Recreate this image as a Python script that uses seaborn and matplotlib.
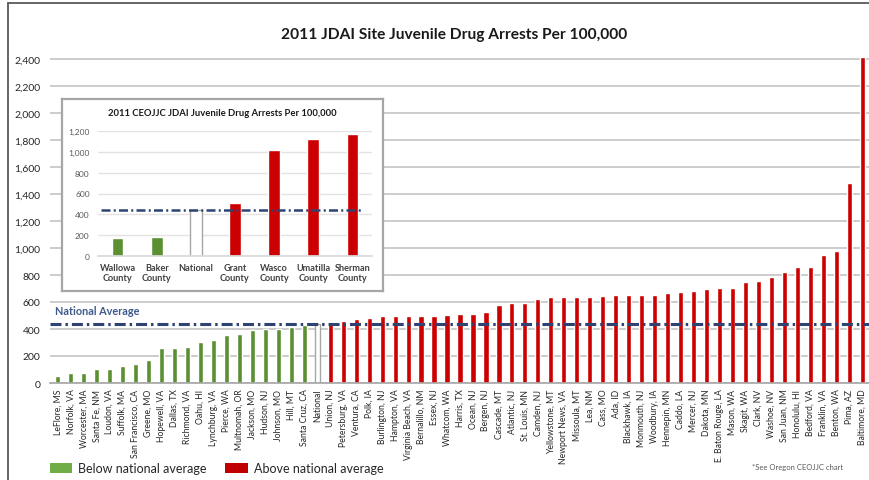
import pandas as pd
import matplotlib
matplotlib.use("Agg")
import matplotlib.pyplot as plt
from matplotlib.patches import Patch
from matplotlib.lines import Line2D
from matplotlib.ticker import FuncFormatter
import seaborn as sns

# JDAI sites below the national rate (juvenile drug arrests per 100,000)
below_sites = ["LeFlore, MS", "Norfolk, VA", "Worcester, MA", "Santa Fe, NM", "Loudon, VA",
               "Suffolk, MA", "San Francisco, CA", "Greene, MO", "Hopewell, VA", "Dallas, TX",
               "Richmond, VA", "Oahu, HI", "Lynchburg, VA", "Pierce, WA", "Multnomah, OR",
               "Jackson, MO", "Hudson, NJ", "Johnson, MO", "Hill, MT", "Santa Cruz, CA"]
below_rates = [54, 74, 77, 104, 106, 128, 138, 170, 257, 257,
               264, 306, 316, 358, 363, 395, 398, 398, 415, 427]

national_label = "National"
national_rate = 437
national_average = 440

# JDAI sites above the national rate
above_sites = ["Union, NJ", "Petersburg, VA", "Ventura, CA", "Polk, IA", "Burlington, NJ",
               "Hampton, VA", "Virginia Beach, VA", "Bernalillo, NM", "Essex, NJ", "Whatcom, WA",
               "Harris, TX", "Ocean, NJ", "Bergen, NJ", "Cascade, MT", "Atlantic, NJ",
               "St. Louis, MN", "Camden, NJ", "Yellowstone, MT", "Newport News, VA", "Missoula, MT",
               "Lea, NM", "Cass, MO", "Ada, ID", "Blackhawk, IA", "Monmouth, NJ",
               "Woodbury, IA", "Hennepin, MN", "Caddo, LA", "Mercer, NJ", "Dakota, MN",
               "E. Baton Rouge, LA", "Mason, WA", "Skagit, WA", "Clark, NV", "Washoe, NV",
               "San Juan, NM", "Honolulu, HI", "Bedford, VA", "Franklin, VA", "Benton, WA",
               "Pima, AZ", "Baltimore, MD"]
above_rates = [447, 457, 474, 482, 494, 499, 499, 500, 500, 503,
               513, 513, 528, 579, 589, 591, 623, 638, 638, 638,
               638, 645, 650, 650, 650, 653, 663, 672, 685, 697,
               702, 702, 751, 753, 788, 820, 861, 861, 950, 977,
               1480, 2415]

# Oregon CEOJJC counties
oregon_counties = ["Wallowa\nCounty", "Baker\nCounty", "National", "Grant\nCounty",
                   "Wasco\nCounty", "Umatilla\nCounty", "Sherman\nCounty"]
oregon_rates = [170, 186, 437, 506, 1021, 1123, 1171]
oregon_groups = ["below", "below", "national", "above", "above", "above", "above"]

y_ticks = list(range(0, 2401, 200))
inset_ticks = list(range(0, 1201, 200))

sns.set_theme(style="white")
plt.rcParams["font.family"] = ["Lato", "DejaVu Sans"]

GREEN = "#5b9032"
RED = "#cc0000"
NAVY = "#2e4374"
palette = {"below": GREEN, "national": "white", "above": RED}

sites = pd.DataFrame({
    "site": below_sites + [national_label] + above_sites,
    "rate": below_rates + [national_rate] + above_rates,
    "group": ["below"] * len(below_sites) + ["national"] + ["above"] * len(above_sites),
})
oregon = pd.DataFrame({"county": oregon_counties, "rate": oregon_rates, "group": oregon_groups})

W, H = 870, 481
fig = plt.figure(figsize=(W / 100, H / 100), dpi=100)

def fx(px):
    return px / W

def fy(py):
    return 1 - py / H

comma = FuncFormatter(lambda v, _: f"{int(v):,}")

# ---- main chart ----
ax = fig.add_axes([fx(50), fy(384), fx(820), (384 - 53.25) / H])
sns.barplot(data=sites, x="site", y="rate", hue="group", palette=palette, dodge=False,
            width=0.4, saturation=1, legend=False, ax=ax)
for p in ax.patches:
    if p.get_facecolor()[:3] == (1.0, 1.0, 1.0):
        p.set_edgecolor("#a6a6a6")
        p.set_linewidth(1.0)
ax.set_xlim(-0.6, 62.6)
ax.set_ylim(0, 2450)
ax.set_yticks(y_ticks)
ax.yaxis.set_major_formatter(comma)
ax.yaxis.grid(True, color="#c8c8c8", lw=1.3)
ax.set_axisbelow(True)
for side in ["top", "right", "left"]:
    ax.spines[side].set_visible(False)
ax.spines["bottom"].set_color("#a6a6a6")
ax.spines["bottom"].set_linewidth(1.2)
ax.tick_params(axis="x", rotation=90, labelsize=6.2, length=0, pad=4, colors="#262626")
ax.tick_params(axis="y", labelsize=7.5, length=0, pad=7, colors="#262626")
ax.set_xlabel("")
ax.set_ylabel("")

avg_line = ax.axhline(national_average, color=NAVY, lw=2.2, zorder=3)
avg_line.set_dashes((3.6, 1.3, 0.8, 1.3))
ax.text(-0.2, 540, "National Average", color="#3d5a8a", fontsize=7.8,
        fontweight="bold", ha="left", va="center")

fig.text(fx(454), fy(35), "2011 JDAI Site Juvenile Drug Arrests Per 100,000",
         ha="center", va="center", fontsize=11.2, fontweight="bold", color="#1a1a1a")

# ---- Oregon inset ----
box = fig.add_axes([fx(62), fy(292), fx(383 - 62), (292 - 100) / H], zorder=3)
box.set_facecolor("white")
box.set_xticks([])
box.set_yticks([])
for s in box.spines.values():
    s.set_color("#a6a6a6")
    s.set_linewidth(1.6)

inset = fig.add_axes([fx(98), fy(257), fx(274), 125 / H], zorder=4)
sns.barplot(data=oregon, x="county", y="rate", hue="group", palette=palette, dodge=False,
            width=0.3, saturation=1, legend=False, ax=inset)
for p in inset.patches:
    if p.get_facecolor()[:3] == (1.0, 1.0, 1.0):
        p.set_edgecolor("#a6a6a6")
        p.set_linewidth(1.0)
inset.set_xlim(-0.5, 6.5)
inset.set_ylim(0, 1200)
inset.set_yticks(inset_ticks)
inset.yaxis.set_major_formatter(comma)
inset.yaxis.grid(True, color="#e3e3e3", lw=1.0)
inset.set_axisbelow(True)
for side in ["top", "right", "left"]:
    inset.spines[side].set_visible(False)
inset.spines["bottom"].set_color("#d9d9d9")
inset.tick_params(axis="y", labelsize=6, length=0, pad=6, colors="#595959")
inset.tick_params(axis="x", labelsize=6.6, length=0, pad=5, colors="#404040")
for lbl in inset.get_xticklabels():
    lbl.set_fontweight("bold")
inset.set_xlabel("")
inset.set_ylabel("")
ins_line = inset.axhline(national_average, xmin=0.01, xmax=0.96, color=NAVY, lw=1.8, zorder=3)
ins_line.set_dashes((3.6, 1.3, 0.8, 1.3))

fig.text(fx(222), fy(114), "2011 CEOJJC JDAI Juvenile Drug Arrests Per 100,000",
         ha="center", va="center", fontsize=6.8, fontweight="bold", color="#1a1a1a",
         zorder=5)

# ---- outer frame ----
fig.add_artist(Line2D([fx(8), fx(8)], [0, fy(4)], transform=fig.transFigure,
                      color="#595959", lw=1.3))
fig.add_artist(Line2D([fx(8), 1], [fy(4), fy(4)], transform=fig.transFigure,
                      color="#595959", lw=1.3))

# ---- legend and note ----
handles = [Patch(facecolor="#70ad47", edgecolor="none", label="Below national average"),
           Patch(facecolor="#c00000", edgecolor="none", label="Above national average")]
fig.legend(handles=handles, loc="center left", bbox_to_anchor=(fx(50), fy(469)),
           ncol=2, frameon=False, fontsize=9, handlelength=1.8, handleheight=0.9,
           handletextpad=0.45, columnspacing=1.5, borderpad=0, borderaxespad=0)
fig.text(fx(752), fy(468), "*See Oregon CEOJJC chart", fontsize=5.5, color="#595959",
         ha="left", va="center")

fig.savefig("out.png", dpi=100)
